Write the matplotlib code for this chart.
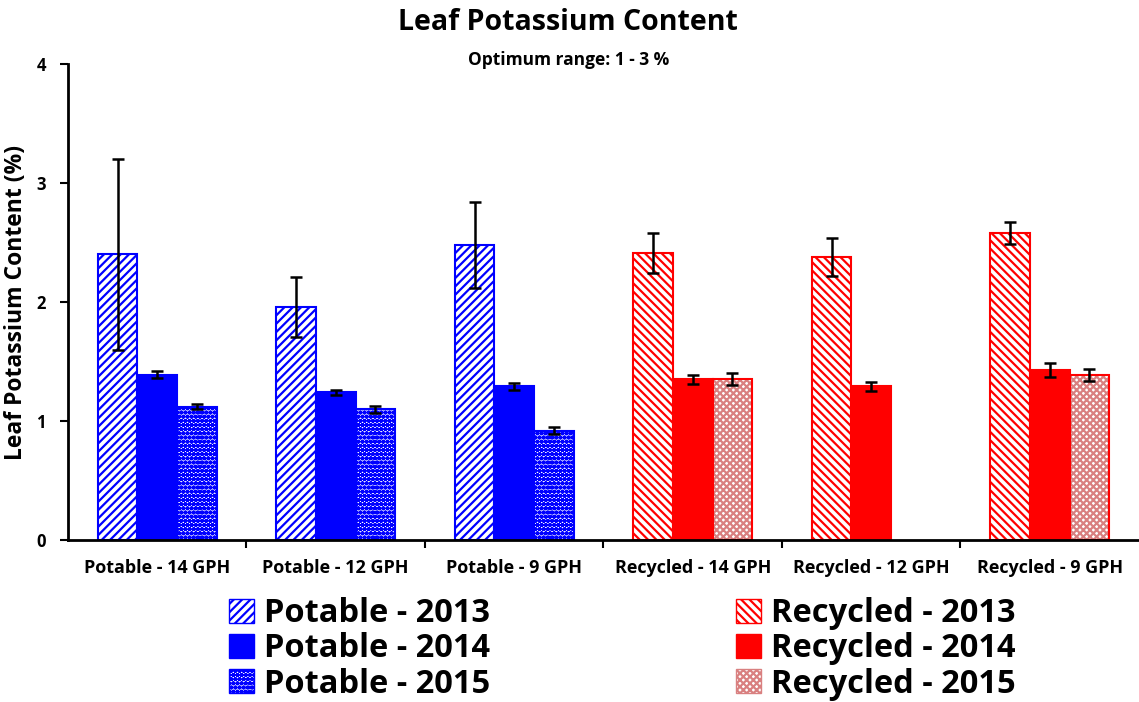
import numpy as np
import matplotlib.pyplot as plt
from matplotlib.patches import Patch

plt.rcParams['font.family'] = ['Open Sans', 'DejaVu Sans']
plt.rcParams['font.weight'] = 'bold'
plt.rcParams['hatch.linewidth'] = 1.6

categories = ['Potable - 14 GPH', 'Potable - 12 GPH', 'Potable - 9 GPH',
              'Recycled - 14 GPH', 'Recycled - 12 GPH', 'Recycled - 9 GPH']

# mean leaf K (%) and error per year
k_2013 = [2.40, 1.96, 2.48, 2.41, 2.38, 2.58]
k_2014 = [1.39, 1.24, 1.29, 1.35, 1.29, 1.43]
k_2015 = [1.12, 1.10, 0.92, 1.35, np.nan, 1.39]
err_2013 = [0.80, 0.25, 0.36, 0.17, 0.16, 0.09]
err_2014 = [0.03, 0.02, 0.03, 0.04, 0.035, 0.06]
err_2015 = [0.02, 0.03, 0.03, 0.05, np.nan, 0.05]

source = ['Potable', 'Potable', 'Potable', 'Recycled', 'Recycled', 'Recycled']
colors = {'Potable': '#0000FF', 'Recycled': '#FF0000'}
hatch_2013 = {'Potable': '////', 'Recycled': '\\\\\\\\'}
hatch_2015 = {'Potable': 'oooo', 'Recycled': 'xxxxx'}
hatch_col_2015 = {'Potable': '#0000FF', 'Recycled': '#d98080'}

fig = plt.figure(figsize=(11.39, 7.02), dpi=100)
ax = fig.add_axes([0.0597, 0.2308, 0.9403, 0.678])

x = np.arange(len(categories))
w = 0.222
years = [(k_2013, err_2013, -w), (k_2014, err_2014, 0.0), (k_2015, err_2015, w)]

for i, src in enumerate(source):
    c = colors[src]
    ax.bar(x[i] - w, k_2013[i], w, color='white', edgecolor=c, linewidth=1.5,
           hatch=hatch_2013[src])
    ax.bar(x[i], k_2014[i], w, color=c, edgecolor=c, linewidth=1.5)
    if not np.isnan(k_2015[i]):
        ax.bar(x[i] + w, k_2015[i], w, color='white', edgecolor=hatch_col_2015[src],
               linewidth=0, hatch=hatch_2015[src])
        ax.bar(x[i] + w, k_2015[i], w, fill=False, edgecolor=c, linewidth=1.5)

for vals, errs, off in years:
    ax.errorbar(x + off, vals, yerr=errs, fmt='none', ecolor='black',
                elinewidth=1.8, capsize=4, capthick=1.8)

ax.set_xlim(-0.5, 5.5)
ax.set_ylim(0, 4)
ax.set_yticks([0, 1, 2, 3, 4])
ax.set_yticklabels(['0', '1', '2', '3', '4'], fontsize=12, fontweight='bold')
ax.set_xticks(x)
ax.set_xticklabels(categories, fontsize=13, fontweight='bold')
ax.set_xticks(x[:-1] + 0.5, minor=True)
ax.tick_params(axis='x', which='major', length=0, pad=14)
ax.tick_params(axis='x', which='minor', length=6, width=1.5, direction='out')
ax.tick_params(axis='y', length=6, width=1.5, direction='out', pad=10)
for side in ['top', 'right']:
    ax.spines[side].set_visible(False)
for side in ['left', 'bottom']:
    ax.spines[side].set_linewidth(2)

ax.set_ylabel('Leaf Potassium Content (%)', fontsize=16.5, fontweight='bold', labelpad=6)

fig.text(0.499, 0.968, 'Leaf Potassium Content', ha='center', va='center',
         fontsize=20.5, fontweight='bold')
fig.text(0.499, 0.914, 'Optimum range: 1 - 3 %', ha='center', va='center',
         fontsize=12.5, fontweight='bold')

for col, src in enumerate(['Potable', 'Recycled']):
    c = colors[src]
    handles = [
        Patch(facecolor='white', edgecolor=c, hatch=hatch_2013[src], label=f'{src} - 2013'),
        Patch(facecolor=c, edgecolor=c, label=f'{src} - 2014'),
        Patch(facecolor='white', edgecolor=hatch_col_2015[src], hatch=hatch_2015[src],
              label=f'{src} - 2015'),
    ]
    anchor = (0.19, 0.168) if col == 0 else (0.635, 0.168)
    fig.legend(handles=handles, loc='upper left', bbox_to_anchor=anchor,
               frameon=False, fontsize=23.5, handlelength=0.75, handleheight=0.75,
               handletextpad=0.3, labelspacing=0.07, borderaxespad=0)

fig.savefig('out.png', dpi=100)
